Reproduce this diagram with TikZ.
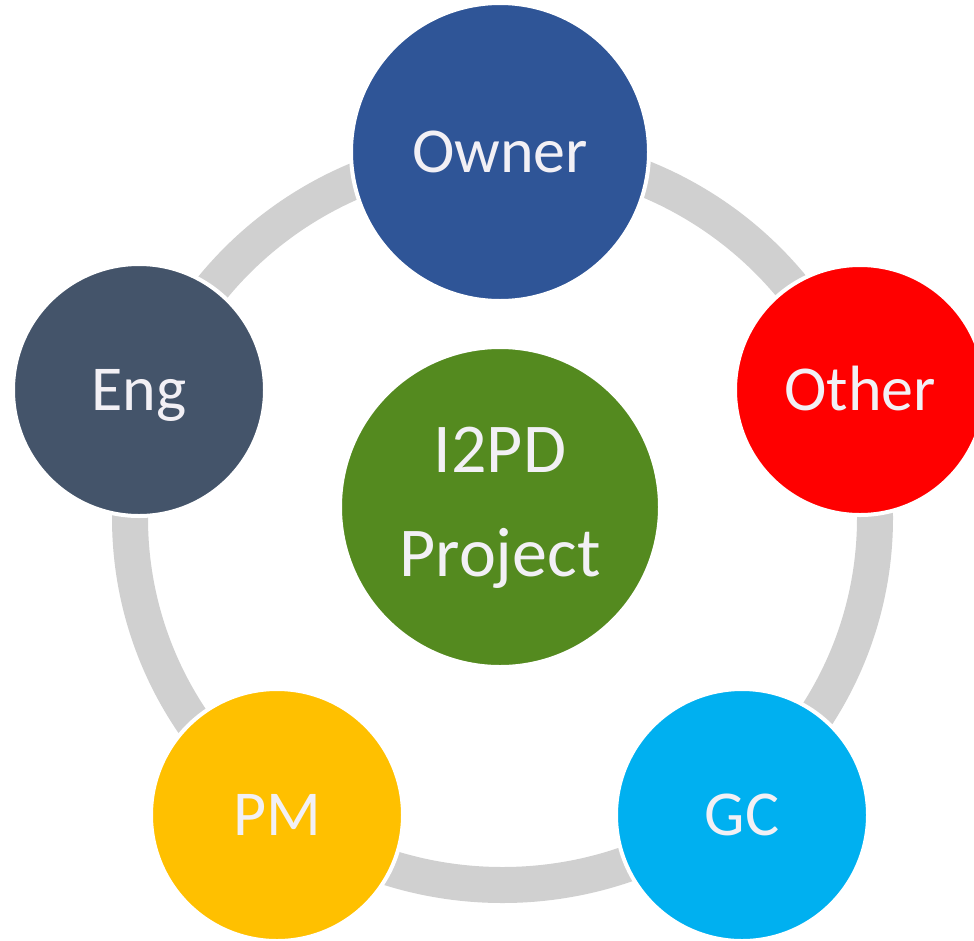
\documentclass[tikz,border=0pt]{standalone}
\usepackage{fontspec}
\setmainfont{Carlito}
\usetikzlibrary{calc}
\definecolor{ringgrey}{HTML}{D0D0D0}
\definecolor{ownerblue}{HTML}{2F5597}
\definecolor{engslate}{HTML}{44546A}
\definecolor{otherred}{HTML}{FF0000}
\definecolor{pmgold}{HTML}{FFC000}
\definecolor{gccyan}{HTML}{00B0F0}
\definecolor{projgreen}{HTML}{548A1F}
\definecolor{labelwhite}{HTML}{F2F0F5}
\tikzset{
  bubble/.style={circle, draw=white, line width=4pt, inner sep=0pt},
  outerlbl/.style={text=labelwhite, font=\fontsize{64}{64}\selectfont, anchor=base, inner sep=0pt},
  centerlbl/.style={text=labelwhite, font=\fontsize{70}{70}\selectfont, anchor=base, inner sep=0pt},
  ring/.style={draw=ringgrey, line width=36pt}
}
\begin{document}
\begin{tikzpicture}[x=1pt,y=-1pt]
\useasboundingbox (0,0) rectangle (974,940);
\clip (0,0) rectangle (974,940);
% ring
\draw[ring] (502.5,518) ellipse [x radius=372.5, y radius=367];
% circles
\node[bubble, fill=projgreen, minimum size=320pt] (ctr) at (500,507) {};
\node[bubble, fill=ownerblue, minimum size=298pt] (owner) at (500,152) {};
\node[bubble, fill=engslate, minimum size=252pt] (eng) at (139,390) {};
\node[bubble, fill=otherred, minimum size=250pt] (other) at (860,390) {};
\node[bubble, fill=pmgold, minimum size=252pt] (pm) at (277,815) {};
\node[bubble, fill=gccyan, minimum size=252pt] (gc) at (742,815) {};
% labels
\node[outerlbl] (ownerlbl) at ($(owner.center)+(0,20)$) {Owner};
\node[outerlbl] (englbl) at ($(eng.center)+(0,20)$) {Eng};
\node[outerlbl] (otherlbl) at ($(other.center)+(0,20)$) {Other};
\node[outerlbl] (pmlbl) at ($(pm.center)+(0,20)$) {PM};
\node[outerlbl] (gclbl) at ($(gc.center)+(0,20)$) {GC};
\node[centerlbl] (ctrlbl1) at ($(ctr.center)+(0,-34.3)$) {I2PD};
\node[centerlbl] (ctrlbl2) at ($(ctr.center)+(0,69.7)$) {Project};
\end{tikzpicture}
\end{document}
